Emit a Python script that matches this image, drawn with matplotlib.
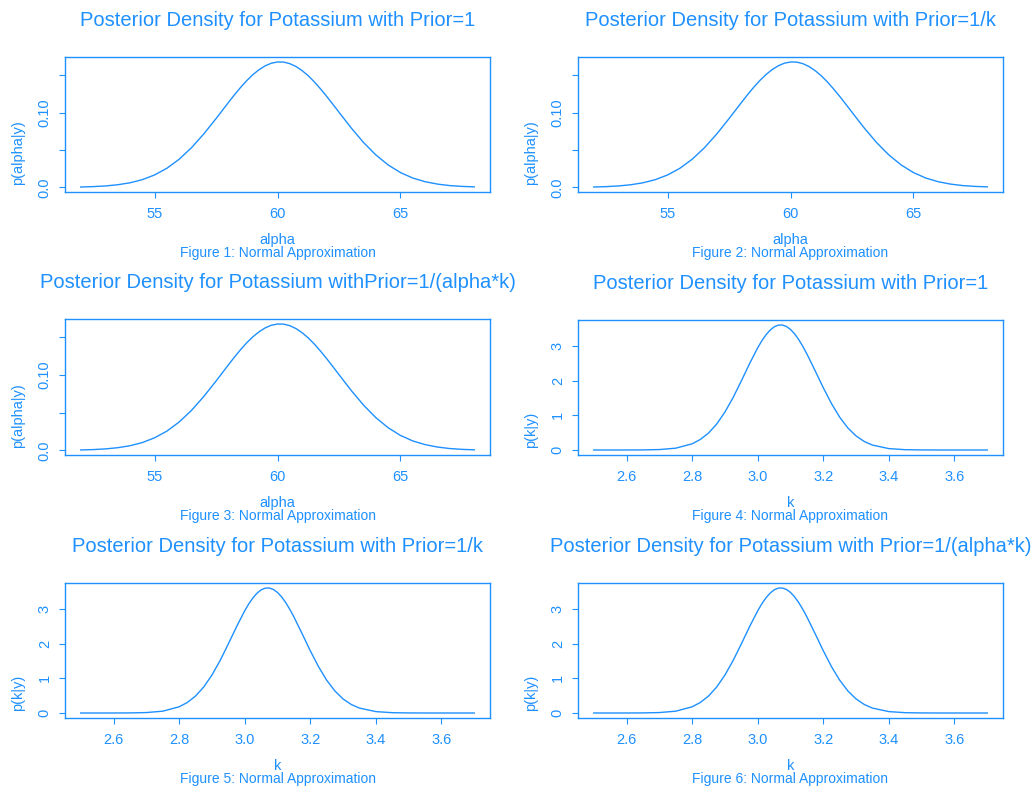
import matplotlib
matplotlib.use("Agg")
import matplotlib.pyplot as plt

# posterior density values
alpha = [52.0, 52.5, 53.0, 53.5, 54.0, 54.5, 55.0, 55.5, 56.0, 56.5, 57.0,
         57.5, 58.0, 58.25, 58.5, 58.75, 59.0, 59.25, 59.5, 59.75, 60.0,
         60.25, 60.5, 60.75, 61.0, 61.25, 61.5, 61.75, 62.0, 62.25, 62.5,
         63.0, 63.5, 64.0, 64.5, 65.0, 65.5, 66.0, 66.5, 67.0, 67.5, 68.0]
dens_alpha = [0.0005, 0.0010, 0.0019, 0.0035, 0.0061, 0.0103, 0.0166, 0.0255,
              0.0376, 0.0530, 0.0714, 0.0920, 0.1134, 0.1239, 0.1338, 0.1429,
              0.1509, 0.1575, 0.1627, 0.1662, 0.1678, 0.1677, 0.1656, 0.1618,
              0.1563, 0.1494, 0.1411, 0.1318, 0.1218, 0.1113, 0.1006, 0.0794,
              0.0600, 0.0434, 0.0300, 0.0198, 0.0125, 0.0076, 0.0044, 0.0024,
              0.0013, 0.0007]

k = [2.50, 2.55, 2.60, 2.65, 2.70, 2.75, 2.80, 2.825, 2.85, 2.875, 2.90,
     2.925, 2.95, 2.975, 3.00, 3.0125, 3.025, 3.0375, 3.05, 3.0625, 3.075,
     3.0875, 3.10, 3.1125, 3.125, 3.1375, 3.15, 3.175, 3.20, 3.225, 3.25,
     3.275, 3.30, 3.325, 3.35, 3.40, 3.45, 3.50, 3.55, 3.60, 3.65, 3.70]
dens_k = [0.0, 0.0001, 0.0004, 0.0025, 0.0126, 0.0526, 0.179, 0.304, 0.490,
          0.752, 1.097, 1.518, 1.997, 2.494, 2.957, 3.158, 3.329, 3.465, 3.561,
          3.612, 3.616, 3.574, 3.488, 3.360, 3.195, 2.999, 2.779, 2.296, 1.801,
          1.341, 0.949, 0.637, 0.406, 0.246, 0.142, 0.040, 0.009, 0.002,
          0.0003, 0.0, 0.0, 0.0]

titles = ["Posterior Density for Potassium with Prior=1",
          "Posterior Density for Potassium with Prior=1/k",
          "Posterior Density for Potassium withPrior=1/(alpha*k)",
          "Posterior Density for Potassium with Prior=1",
          "Posterior Density for Potassium with Prior=1/k",
          "Posterior Density for Potassium with Prior=1/(alpha*k)"]
captions = ["Figure %d: Normal Approximation" % i for i in range(1, 7)]
params = ["alpha", "alpha", "alpha", "k", "k", "k"]

alpha_xticks = [55, 60, 65]
alpha_yticks = [0.0, 0.05, 0.10, 0.15]
alpha_yticklabels = ["0.0", "", "0.10", ""]
k_xticks = [2.6, 2.8, 3.0, 3.2, 3.4, 3.6]
k_xticklabels = ["2.6", "2.8", "3.0", "3.2", "3.4", "3.6"]
k_yticks = [0, 1, 2, 3]

col = "#1E90FF"
plt.rcParams['font.family'] = ['Liberation Sans', 'DejaVu Sans']

W, H = 1036, 792
fig = plt.figure(figsize=(W / 100, H / 100), dpi=100)

# axes boxes in pixels: (left, top, right, bottom)
boxes = [(65, 57, 490, 192), (578, 57, 1003, 192),
         (65, 319, 490, 455), (578, 320, 1003, 455),
         (65, 583, 490, 718), (578, 583, 1003, 718)]

for i, (l, t, r, b) in enumerate(boxes):
    ax = fig.add_axes([l / W, 1 - b / H, (r - l) / W, (b - t) / H])
    if params[i] == "alpha":
        x, y = alpha, dens_alpha
        ylab = "p(alpha|y)"
    else:
        x, y = k, dens_k
        ylab = "p(k|y)"
    ax.plot(x, y, color=col, lw=1.0)

    # R style 4% padding
    xr = max(x) - min(x)
    yr = max(y) - min(y)
    ax.set_xlim(min(x) - 0.04 * xr, max(x) + 0.04 * xr)
    ax.set_ylim(min(y) - 0.04 * yr, max(y) + 0.04 * yr)

    if params[i] == "alpha":
        ax.set_xticks(alpha_xticks)
        ax.set_yticks(alpha_yticks)
        ax.set_yticklabels(alpha_yticklabels)
    else:
        ax.set_xticks(k_xticks)
        ax.set_xticklabels(k_xticklabels)
        ax.set_yticks(k_yticks)

    for s in ax.spines.values():
        s.set_color(col)
        s.set_linewidth(1.0)
    ax.tick_params(colors=col, labelcolor=col, length=4.5, width=0.8,
                   labelsize=10.5)
    ax.tick_params(axis="x", pad=6)
    ax.tick_params(axis="y", pad=5)
    for lab in ax.get_yticklabels():
        lab.set_rotation(90)
        lab.set_va("center")

    h = b - t
    ax.text(0.5, 1 + 37 / h, titles[i], transform=ax.transAxes, ha="center",
            va="center", color=col, fontsize=14.5)
    ax.text(0.5, -48 / h, params[i], transform=ax.transAxes, ha="center",
            va="center", color=col, fontsize=10.5)
    ax.text(0.5, -61 / h, captions[i], transform=ax.transAxes, ha="center",
            va="center", color=col, fontsize=10)
    ax.text(-47 / (r - l), 0.05, ylab, transform=ax.transAxes, rotation=90,
            ha="center", va="bottom", color=col, fontsize=10.5)

fig.savefig("out.png", dpi=100)
